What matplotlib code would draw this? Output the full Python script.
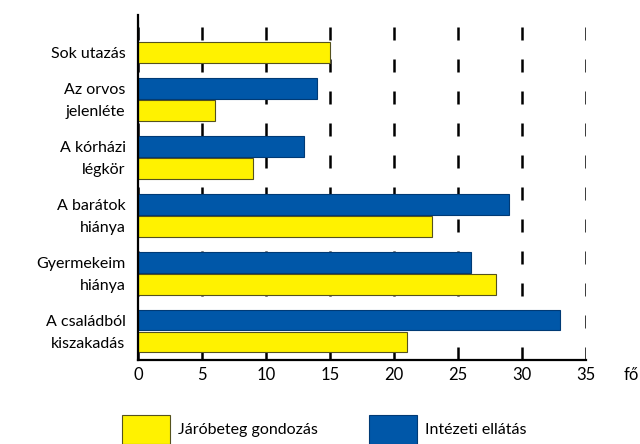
import numpy as np
import matplotlib.pyplot as plt
from matplotlib.patches import Patch

# Data ------------------------------------------------------------------------
categories = ['Sok utazás', 'Az orvos\njelenléte', 'A kórházi\nlégkör',
              'A barátok\nhiánya', 'Gyermekeim\nhiánya', 'A családból\nkiszakadás']
intezeti = [0, 14, 13, 29, 26, 33]      # blue
jarobeteg = [15, 6, 9, 23, 28, 21]      # yellow
xticks = [0, 5, 10, 15, 20, 25, 30, 35]
series_labels = ['Járóbeteg gondozás', 'Intézeti ellátás']

# Style -----------------------------------------------------------------------
YEL = '#fff200'
BLU = '#0057a8'
plt.rcParams['font.family'] = ['Lato', 'DejaVu Sans']
FS = 11.5

fig = plt.figure(figsize=(6.4, 4.44), dpi=100)
ax = fig.add_axes([138/640, 1-360/444, 448/640, 345/444])

y = np.arange(len(categories))
h = 0.36
off = 0.19
ax.barh(y - off, intezeti, height=h, color=BLU, edgecolor='#003a75',
        linewidth=0.8, zorder=3)
ax.barh(y + off, jarobeteg, height=h, color=YEL, edgecolor='#55521f',
        linewidth=0.8, zorder=3)

# Dashed vertical grid -------------------------------------------------------
ax.set_xlim(0, 35)
ax.set_ylim(len(categories) - 0.5, -0.46)
ax.set_xticks(xticks)
ax.set_xticklabels([str(t) for t in xticks], fontsize=12)
ax.tick_params(axis='x', length=0, pad=5)
ax.xaxis.grid(True, color='black', linewidth=1.8, linestyle=(0, (5.2, 7.6)),
              zorder=1)
ax.set_axisbelow(True)

# Category labels: one line beside each bar ---------------------------------
pos, labs = [], []
for i, c in enumerate(categories):
    parts = c.split('\n')
    if len(parts) == 1:
        pos.append(i + off)
        labs.append(parts[0])
    else:
        pos += [i - off, i + off]
        labs += parts
ax.set_yticks(pos)
ax.set_yticklabels(labs, fontsize=FS)
ax.tick_params(axis='y', length=0, pad=9)

for s in ['top', 'right']:
    ax.spines[s].set_visible(False)
for s in ['left', 'bottom']:
    ax.spines[s].set_linewidth(1.6)
    ax.spines[s].set_zorder(4)

ax.annotate('fő', xy=(1, 0), xycoords='axes fraction', xytext=(27, -5),
            textcoords='offset points', fontsize=12, ha='left', va='top')

# Legend ----------------------------------------------------------------------
handles = [Patch(facecolor=YEL, edgecolor='#55521f', linewidth=0.8),
           Patch(facecolor=BLU, edgecolor='#003a75', linewidth=0.8)]
fig.legend(handles, series_labels, loc='upper left',
           bbox_to_anchor=(122/640, 1-415/444), ncol=2, frameon=False,
           fontsize=FS, handlelength=3.0, handleheight=2.4,
           handletextpad=0.5, columnspacing=3.2, borderpad=0, borderaxespad=0)

plt.savefig('out.png', dpi=100)
